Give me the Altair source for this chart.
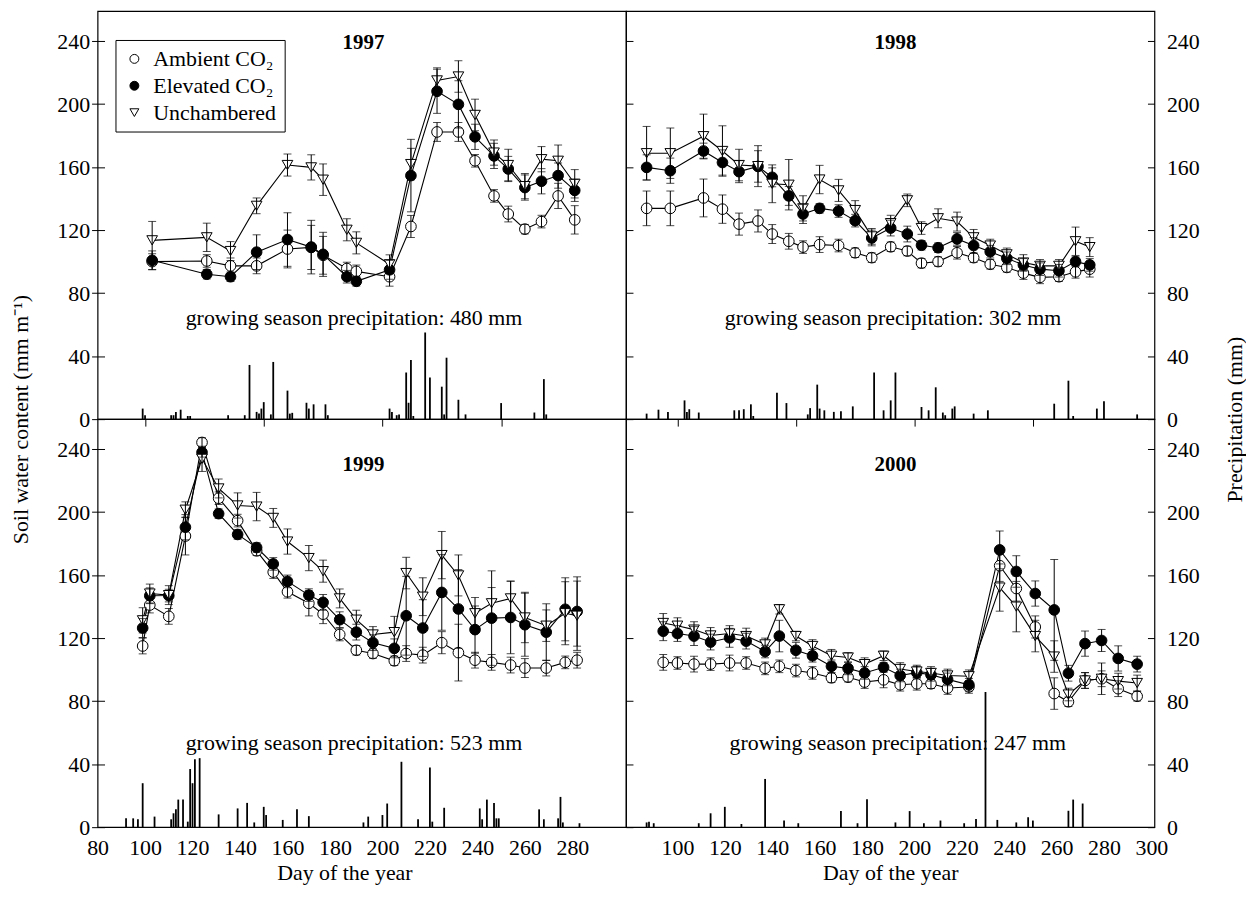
import altair as alt
import pandas as pd

FONT = "Liberation Serif"
FS = 22
W, H = 531, 410
Y_DOMAIN = [0, 259]
Y_TICKS = [0, 40, 80, 120, 160, 200, 240]
SERIES = ["Ambient CO\u2082", "Elevated CO\u2082", "Unchambered"]

# ---------------- 1997 ----------------
days_97 = [103, 126, 136, 147, 160, 170, 175, 185, 189, 203, 212, 223, 232, 239, 247, 253, 260, 267, 274, 281]
amb_97 = [100, 100.4, 97.3, 97.3, 108, 109, 104, 95.6, 93.8, 90.4, 122.3, 182.3, 182.3, 164, 141.7, 130.2, 120.6, 125.4, 141.7, 126.5]
amb_err_97 = [5, 4, 5, 5, 12, 14, 12, 4, 4, 6, 7, 6, 6, 4, 4, 5, 3, 4, 8, 9]
elev_97 = [100.8, 92, 90.4, 106, 114, 109.2, 104.6, 90.4, 87.5, 94.8, 154.6, 208.1, 199.8, 179.2, 167.1, 158.8, 147, 151, 154.6, 145.2]
elev_err_97 = [6, 3, 3, 11, 17, 17, 14, 4, 3, 6, 23, 14, 15, 8, 8, 8, 8, 8, 8, 7]
unch_97 = [113.5, 115.4, 106.7, 135.4, 161.3, 159.8, 152, 120.2, 111.9, 98.3, 161.9, 215, 217.5, 193.1, 169.2, 161.3, 147.9, 165, 164, 149.4]
unch_err_97 = [12, 9, 6, 5, 7, 8, 10, 7, 7, 6, 10, 8, 10, 10, 8, 10, 8, 8, 10, 9]
rain_days_97 = [99, 100, 111, 112, 113, 115, 118, 119, 135, 142, 144, 147, 148, 149, 150, 153, 154, 160, 161, 162,
                168, 169, 171, 176, 177, 203, 204, 206, 207, 210, 211, 212, 213, 218, 220, 225, 226, 227, 232, 235,
                250, 264, 268, 269]
rain_mm_97 = [6.7, 2.5, 2.5, 2.5, 4.6, 6, 2, 2, 2.5, 2.5, 34.4, 4.6, 3.5, 6.7, 10.8, 3, 36.3, 18.1, 3.5, 4,
              10.4, 6.7, 9.4, 9.4, 2.5, 6.7, 4.6, 2.5, 3, 29.6, 10.4, 37.5, 2, 55, 26.5, 20.6, 3, 39, 12.3, 3,
              10.2, 4.2, 25.4, 3]

# ---------------- 1998 ----------------
days_98 = [87, 97, 111, 119, 126, 134, 140, 147, 153, 160, 168, 175, 182, 190, 197, 203, 210, 218, 225, 232, 239, 246, 253, 261, 268, 274]
amb_98 = [133.8, 133.8, 140.4, 133.3, 123.8, 125.8, 117.5, 112.9, 109.2, 110.8, 110.2, 105.6, 102.5, 109.4, 106.7, 99, 100, 105.6, 102.5, 98.3, 96.3, 92.7, 90, 90.4, 93.5, 95.2]
amb_err_98 = [11, 11, 12, 9, 7, 7, 6, 5, 4, 5, 4, 3, 3, 3, 3, 3, 3, 4, 3, 3, 3, 4, 4, 3, 4, 5]
elev_98 = [159.8, 157.7, 170.2, 162.9, 157.1, 160.4, 153.5, 141.7, 130.2, 133.8, 132.1, 126, 115, 121.3, 117.5, 110.4, 108.8, 114.4, 110.2, 106.3, 102.1, 97.9, 95.2, 94.2, 100, 97.9]
elev_err_98 = [8, 8, 5, 8, 7, 10, 6, 6, 6, 3, 4, 4, 5, 5, 5, 3, 3, 4, 5, 4, 4, 4, 4, 4, 3, 4]
unch_98 = [168.8, 168.8, 179.6, 170.2, 161.3, 160.6, 149.4, 148.8, 133.8, 152.1, 145.2, 132.7, 116, 124.4, 138.9, 121.3, 127.5, 125.4, 115.4, 110.2, 104.6, 99.4, 97.3, 97.3, 112.9, 109.2]
unch_err_98 = [17, 16, 14, 16, 10, 13, 12, 16, 8, 9, 7, 6, 5, 5, 4, 4, 6, 6, 5, 4, 4, 5, 4, 4, 9, 6]
rain_days_98 = [87, 92, 96, 103, 104, 105, 109, 124, 126, 128, 131, 132, 142, 146, 155, 156, 159, 160, 162, 166,
                169, 174, 183, 187, 190, 192, 203, 206, 209, 212, 213, 216, 217, 225, 231, 259, 265, 267, 277, 280, 294]
rain_mm_98 = [3.5, 6, 4.6, 11.9, 4.6, 6.3, 4.2, 5.6, 5.6, 6.3, 9.4, 2, 16.7, 10.2, 3, 7, 21.9, 6.7, 5.6, 4.6,
              5, 8.1, 29.6, 5.6, 11.9, 29.6, 7.7, 5.6, 20.2, 4.2, 2.5, 6.7, 8.1, 3.5, 5.6, 9.8, 24.4, 2, 6.7, 11.3, 3]

# ---------------- 1999 ----------------
days_99 = [99, 102, 110, 117, 124, 131, 139, 147, 154, 160, 169, 175, 182, 189, 196, 205, 210, 217, 225, 232, 239, 246, 254, 260, 269, 277, 282]
amb_99 = [115, 141, 133.8, 184.8, 244.2, 208.8, 194.6, 175.4, 161.9, 149.4, 142.1, 135.2, 122.3, 112.3, 110.2, 105.6, 110.2, 109.2, 117.1, 110.8, 106, 104.6, 102.9, 101, 101, 104.6, 106]
amb_err_99 = [5, 5, 5, 12, 3, 4, 4, 3, 4, 4, 8, 6, 4, 3, 3, 3, 5, 5, 7, 18, 5, 5, 5, 6, 5, 4, 5]
elev_99 = [126.4, 146.9, 147, 190.4, 237.9, 199, 185.8, 177.5, 167.1, 156, 147.3, 142.7, 131.7, 123.8, 117.1, 113.5, 134.2, 126.4, 149, 138.5, 125.4, 132.7, 133.1, 128.5, 123.8, 138.3, 136.9]
elev_err_99 = [6, 5, 4, 8, 3, 3, 3, 3, 4, 4, 4, 5, 5, 5, 5, 6, 25, 18, 24, 25, 15, 30, 23, 20, 18, 20, 22]
unch_99 = [131.3, 148.3, 147.3, 201.5, 233.8, 215, 204.2, 203.5, 196.3, 181.3, 170.8, 162.5, 145.2, 131.7, 122.3, 123.8, 161.3, 146.3, 172.7, 159.8, 135.8, 142.1, 145.2, 133.1, 127.9, 135.8, 134.2]
unch_err_99 = [8, 6, 6, 5, 8, 6, 8, 9, 6, 8, 8, 7, 6, 6, 5, 10, 10, 12, 15, 13, 10, 10, 11, 16, 10, 20, 22]
rain_days_99 = [92, 95, 97, 99, 104, 111, 112, 113, 114, 116, 118, 119, 120, 121, 123, 131, 139, 143, 146, 150,
                151, 158, 164, 169, 192, 194, 200, 202, 208, 215, 220, 221, 226, 241, 242, 244, 247, 248, 249, 266,
                268, 274, 275, 276, 283]
rain_mm_99 = [5.6, 5.6, 5, 27.9, 6.7, 5, 8.8, 11.3, 17.5, 17.5, 3.5, 36.9, 27.9, 43.1, 43.8, 8.1, 11.9, 15.4, 3, 12.9,
              7.7, 4.6, 11.3, 7, 3, 6.7, 7.7, 15, 41.5, 5, 37.9, 3.5, 12.3, 11.9, 5, 17.5, 15.4, 5.6, 5.6, 11.3,
              5, 5.6, 19.2, 3, 2.5]

# ---------------- 2000 ----------------
days_00 = [94, 100, 107, 114, 122, 129, 137, 143, 150, 157, 165, 172, 179, 187, 194, 201, 207, 214, 223, 236, 243, 251, 259, 265, 272, 279, 286, 294]
amb_00 = [104.6, 104.2, 103.5, 103.5, 104.2, 104.2, 100.8, 102.1, 99.4, 97.9, 94.8, 95.2, 92.1, 93.5, 90.4, 91, 91, 88.3, 89, 166, 151.5, 127.1, 84.8, 79.6, 93.1, 94.2, 87.9, 83.1]
amb_err_00 = [5, 4, 5, 4, 5, 4, 4, 4, 4, 4, 3, 3, 4, 5, 4, 4, 3, 4, 4, 10, 8, 7, 10, 3, 5, 10, 5, 3]
elev_00 = [124.4, 122.9, 121.3, 117.5, 120.2, 118.1, 111.5, 121.3, 112.3, 108.8, 102.1, 100.8, 97.9, 101.5, 96.3, 98.1, 96.7, 93.8, 90.4, 176, 162.3, 148.3, 137.9, 97.7, 116.5, 118.5, 107.1, 103.5]
elev_err_00 = [6, 5, 6, 5, 6, 5, 4, 10, 5, 4, 4, 4, 4, 3, 4, 4, 4, 4, 4, 12, 10, 8, 32, 5, 8, 7, 8, 5]
unch_00 = [129.6, 127.9, 125.4, 121.7, 122.9, 121.3, 116, 138.3, 121.3, 115, 108.8, 107.7, 103.5, 108.8, 100.4, 98.8, 97.9, 96.3, 95.8, 152.1, 140, 121.3, 108.3, 84.2, 93.1, 94.2, 92.7, 91.5]
unch_err_00 = [6, 5, 5, 5, 5, 5, 4, 3, 3, 4, 4, 3, 4, 3, 4, 4, 4, 4, 4, 15, 16, 10, 10, 4, 5, 5, 5, 5]
rain_days_00 = [87, 88, 90, 109, 114, 120, 127, 137, 145, 151, 169, 176, 180, 192, 198, 204, 211, 221, 226, 230,
                235, 243, 248, 250, 265, 267, 271]
rain_mm_00 = [3, 3.5, 2.5, 2.5, 8.8, 12.9, 2, 30.6, 4.2, 2.5, 10.2, 2.5, 17.7, 3, 10.2, 2.5, 4.2, 2.5, 5.2, 85.8,
              4.6, 3, 6.3, 4.2, 10.4, 17.5, 15]

growing_totals = {"1997": 480, "1998": 302, "1999": 523, "2000": 247}

X_LEFT = [80, 302.6]
X_RIGHT = [78.3, 301.3]


def series_frame(days, a, ae, e, ee, u, ue):
    rows = []
    for name, vals, errs in zip(SERIES, (a, e, u), (ae, ee, ue)):
        for d, v, s in zip(days, vals, errs):
            rows.append({"day": d, "value": v, "lo": v - s, "hi": v + s, "series": name})
    return pd.DataFrame(rows)


LEGEND = alt.Legend(
    title=None, orient="none", legendX=18, legendY=29,
    strokeColor="black", fillColor="white", padding=8,
    labelFont=FONT, labelFontSize=FS, labelColor="black", labelOffset=8,
    symbolSize=80, symbolStrokeColor="black", symbolStrokeWidth=1,
    rowPadding=5, labelLimit=300,
)


def panel(sdf, pdf, xdom, year, year_pos, text_pos, col, row):
    xs = alt.Scale(domain=xdom, nice=False, zero=False)
    ys = alt.Scale(domain=Y_DOMAIN, nice=False, zero=False)
    if row == 1:
        xvals = [80, 100, 120, 140, 160, 180, 200, 220, 240, 260, 280] if col == 0 else \
                [100, 120, 140, 160, 180, 200, 220, 240, 260, 280, 300]
        xaxis = alt.Axis(values=xvals, title="Day of the year", ticks=False, domain=False, grid=False,
                         labelPadding=10, titlePadding=5, labelOverlap=False, labelFlush=False,
                         titleX=(248 if col == 0 else W / 2))
    else:
        xaxis = alt.Axis(values=[100, 150, 200, 250], labels=False, tickSize=7, domain=False,
                         grid=False, title=None)
    if col == 0:
        yaxis = alt.Axis(values=Y_TICKS, tickSize=13, offset=-7, domain=False, grid=False,
                         labelPadding=2,
                         title=("Soil water content (mm m\u207b\u00b9)" if row == 0 else None),
                         titleAngle=270, titleX=-84, titleY=H, titleAlign="center",
                         titleBaseline="middle")
    else:
        yaxis = alt.Axis(values=Y_TICKS, tickSize=7, offset=-7, labels=False, domain=False,
                         grid=False, title=None)

    x0 = alt.X("day:Q", scale=xs, axis=None)
    base = alt.Chart(sdf)

    lines = base.mark_line(color="black", strokeWidth=1.1).encode(
        x=alt.X("day:Q", scale=xs, axis=xaxis),
        y=alt.Y("value:Q", scale=ys, axis=yaxis),
        detail="series:N",
    )
    rain = alt.Chart(pdf).mark_rule(color="black", strokeWidth=1.8).encode(
        x=x0, y=alt.Y("mm:Q", scale=ys, axis=None), y2=alt.datum(0)
    )
    points = base.mark_point(filled=False, strokeWidth=1, size=115, opacity=1).encode(
        x=x0,
        y=alt.Y("value:Q", scale=ys, axis=None),
        shape=alt.Shape("series:N", scale=alt.Scale(domain=SERIES, range=["circle", "circle", "triangle-down"]), legend=LEGEND),
        fill=alt.Fill("series:N", scale=alt.Scale(domain=SERIES, range=["white", "black", "white"]), legend=LEGEND),
        stroke=alt.Stroke("series:N", scale=alt.Scale(domain=SERIES, range=["black", "black", "black"]), legend=LEGEND),
    )
    err = base.mark_rule(color="black", strokeWidth=1).encode(
        x=x0, y=alt.Y("lo:Q", scale=ys, axis=None), y2="hi:Q"
    )
    cap_lo = base.mark_tick(color="black", orient="horizontal", size=8, thickness=1).encode(
        x=x0, y=alt.Y("lo:Q", scale=ys, axis=None)
    )
    cap_hi = base.mark_tick(color="black", orient="horizontal", size=8, thickness=1).encode(
        x=x0, y=alt.Y("hi:Q", scale=ys, axis=None)
    )
    ylab = alt.Chart(pd.DataFrame({"day": [year_pos[0]], "value": [year_pos[1]], "t": [year]})).mark_text(
        font=FONT, fontSize=21, fontWeight="bold", color="black", baseline="middle", align="center"
    ).encode(x=x0, y=alt.Y("value:Q", scale=ys, axis=None), text="t:N")
    ptxt = alt.Chart(pd.DataFrame({"day": [text_pos[0]], "value": [text_pos[1]],
                                   "t": [f"growing season precipitation: {growing_totals[year]} mm"]})).mark_text(
        font=FONT, fontSize=FS, color="black", baseline="middle", align="center"
    ).encode(x=x0, y=alt.Y("value:Q", scale=ys, axis=None), text="t:N")

    layers = [lines, rain, points, err, cap_lo, cap_hi, ylab, ptxt]
    if col == 1:
        raxis = alt.Axis(orient="right", values=Y_TICKS, tickSize=7, offset=-7, labelPadding=12,
                         domain=False, grid=False,
                         title=("Precipitation (mm)" if row == 0 else None),
                         titleAngle=270, titleX=87, titleY=H, titleAlign="center", titleBaseline="middle")
        right = alt.Chart(pdf).mark_point(opacity=0).encode(
            x=x0, y=alt.Y("mm:Q", scale=ys, axis=raxis)
        )
        layers.append(right)
    return alt.layer(*layers).resolve_scale(x="independent", y="independent").properties(width=W, height=H)


tl = panel(series_frame(days_97, amb_97, amb_err_97, elev_97, elev_err_97, unch_97, unch_err_97),
           pd.DataFrame({"day": rain_days_97, "mm": rain_mm_97}), X_LEFT, "1997", (192, 239), (188, 64), 0, 0)
tr = panel(series_frame(days_98, amb_98, amb_err_98, elev_98, elev_err_98, unch_98, unch_err_98),
           pd.DataFrame({"day": rain_days_98, "mm": rain_mm_98}), X_RIGHT, "1998", (192, 239), (191, 64), 1, 0)
bl = panel(series_frame(days_99, amb_99, amb_err_99, elev_99, elev_err_99, unch_99, unch_err_99),
           pd.DataFrame({"day": rain_days_99, "mm": rain_mm_99}), X_LEFT, "1999", (192, 229.6), (188, 53.5), 0, 1)
br = panel(series_frame(days_00, amb_00, amb_err_00, elev_00, elev_err_00, unch_00, unch_err_00),
           pd.DataFrame({"day": rain_days_00, "mm": rain_mm_00}), X_RIGHT, "2000", (192, 229.6), (193, 53.5), 1, 1)

chart = alt.concat(tl, tr, bl, br, columns=2, spacing=0, bounds="flush").properties(
    padding={"left": 1, "top": 0, "right": 0, "bottom": 0}, background="white"
).configure_view(
    stroke="black", strokeWidth=1.2
).configure_axis(
    labelFont=FONT, labelFontSize=FS, labelColor="black",
    titleFont=FONT, titleFontSize=FS, titleFontWeight="normal", titleColor="black",
    tickColor="black", tickWidth=1,
)

chart.save("out.html", embed_options={"renderer": "svg", "actions": False})
